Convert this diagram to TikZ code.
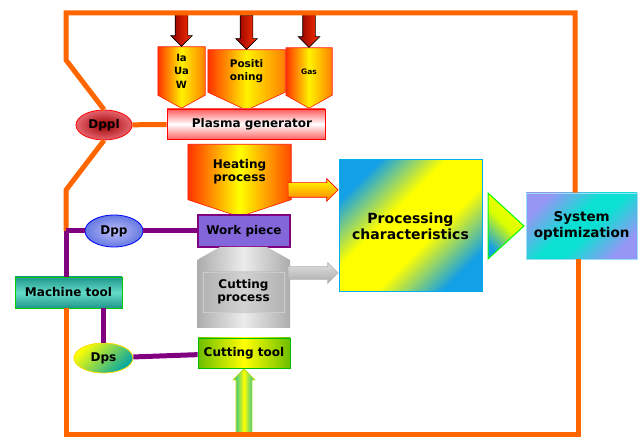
\documentclass[tikz,border=0pt]{standalone}
\usepackage{fontspec}
\setmainfont{DejaVu Sans}
\usetikzlibrary{positioning, backgrounds, shapes.geometric, shapes.arrows}

\definecolor{frameorange}{RGB}{255,102,0}
\definecolor{linepurple}{RGB}{128,0,128}
\definecolor{hotred}{RGB}{255,50,0}
\definecolor{procblue}{RGB}{20,160,230}
\definecolor{lavblue}{RGB}{150,150,245}
\definecolor{sysgreen}{RGB}{10,225,210}
\definecolor{wppurple}{RGB}{130,102,218}
\definecolor{toolgreen}{RGB}{110,190,0}
\definecolor{toolteal}{RGB}{30,150,140}
\definecolor{toolcyan}{RGB}{100,220,200}

\pgfdeclareverticalshading{procdiag}{100bp}{color(0bp)=(procblue); color(25bp)=(procblue);
	color(42bp)=(yellow); color(58bp)=(yellow); color(75bp)=(procblue); color(100bp)=(procblue)}
\pgfdeclareverticalshading{sysdiag}{100bp}{color(0bp)=(lavblue); color(25bp)=(lavblue);
	color(45bp)=(sysgreen); color(55bp)=(sysgreen); color(75bp)=(lavblue); color(100bp)=(lavblue)}

\tikzset{
	every node/.style={font=\bfseries\fontsize{12}{13}\selectfont, text=black, inner sep=1pt}, % bold sans labels
	frame/.style={draw=frameorange, line width=5pt}, % the orange control loop
	link/.style={draw=linepurple, line width=5pt}, % purple sensor links
	pentbody/.style={rectangle, align=center}, % text part of an input box
	pentfill/.style={draw=red!80!orange, line width=0.6pt,
		left color=hotred, right color=orange, middle color=yellow!90!orange}, % input box outline
	downarrow/.style={single arrow, shape border rotate=270, draw=black, line width=0.6pt,
		left color=red!55!black, right color=hotred, minimum height=34pt, minimum width=21pt,
		single arrow head extend=4.5pt, inner sep=6pt, anchor=tip}, % inputs from the loop
	oval/.style={ellipse, line width=0.8pt, minimum height=30pt}, % sensors
	box/.style={rectangle, line width=0.8pt}, % plain blocks
}

\begin{document}
\begin{tikzpicture}[x=1pt, y=-1pt]
	\useasboundingbox (0,0) rectangle (641,438);

	% inputs of the plasma generator
	\node[pentbody, minimum width=47pt, minimum height=48pt,
		font=\bfseries\fontsize{10}{13.5}\selectfont] (ia) at (181.5,71) {Ia\\Ua\\W};
	\node[pentbody, minimum width=77pt, minimum height=42pt,
		font=\bfseries\fontsize{10.5}{13}\selectfont] (pos) at (246.5,71) {Positi\\oning};
	\node[pentbody, minimum width=46pt, minimum height=47pt,
		font=\bfseries\fontsize{7.5}{8}\selectfont] (gas) at (309,71.5) {Gas};
	\node[downarrow] at (ia.north) {};
	\node[downarrow] at (pos.north) {};
	\node[downarrow] at (gas.north) {};

	\node[box, draw=red, top color=red!65, bottom color=red!60, middle color=white,
		minimum width=158pt, minimum height=30pt] (plasma) at (246,124) {\hspace{12pt}Plasma generator};
	\node[oval, draw=red, inner color=red!60!black, outer color={rgb,255:red,230;green,100;blue,110},
		minimum width=56pt] (dppl) at (104,125) {Dppl};

	% process chain
	\node[pentbody, minimum width=103pt, minimum height=55pt] (heat) at (239.5,172) {Heating\\process};
	\node[box, draw=linepurple, fill=wppurple, line width=1.2pt,
		minimum width=92pt, minimum height=32pt] (wp) at (244,231) {Work piece};
	\shade[left color=gray!65, right color=gray!65, middle color=gray!15]
		(197,260) -- (220,247) -- (267,247) -- (290,260) -- (290,328) -- (197,328) -- cycle;
	\node[box, draw=gray!40, left color=gray!60, right color=gray!60, middle color=gray!35,
		minimum width=81pt, minimum height=40pt, align=center] (cut) at (243.5,292) {Cutting\\process};
	\node[box, draw=green!75!black, left color=toolgreen, right color=toolgreen, middle color=yellow,
		minimum width=92pt, minimum height=30pt] (ctool) at (244,353) {Cutting tool};

	\node[box, draw=cyan, line width=1pt, shade, shading=procdiag, shading angle=45,
		minimum width=143pt, minimum height=132pt, align=center,
		font=\bfseries\fontsize{14}{16}\selectfont] (proc) at (410.5,226) {Processing\\characteristics};
	\node[isosceles triangle, isosceles triangle apex angle=85, draw=green, line width=1pt, inner sep=0pt,
		top color=yellow, bottom color=procblue, middle color=yellow!85!green, shading angle=-45,
		minimum height=36pt, minimum width=66pt] (tri) [right=5pt of proc] {};
	\node[box, draw=cyan!40, shade, shading=sysdiag, shading angle=45,
		minimum width=111pt, minimum height=66pt, align=center,
		font=\bfseries\fontsize{13.5}{15.5}\selectfont] (sysopt) [right=1pt of tri] {System\\optimization};

	% block arrows into the characteristics
	\node[single arrow, draw=red, top color=yellow, bottom color=orange, line width=0.6pt,
		minimum height=50pt, minimum width=22pt, single arrow head extend=4pt, inner sep=7pt, anchor=tip]
		at (proc.west |- 0,190) {};
	\node[single arrow, draw=gray!60, top color=gray!25, bottom color=gray!65, line width=0.6pt,
		minimum height=50pt, minimum width=20pt, single arrow head extend=4pt, inner sep=6pt, anchor=tip]
		at (proc.west |- 0,273) {};
	\node[single arrow, shape border rotate=90, draw=yellow!70!green, left color=teal!55!cyan,
		right color=teal!55!cyan, middle color=yellow, line width=0.8pt,
		minimum height=67pt, minimum width=21pt, single arrow head extend=3pt, inner sep=7.5pt, anchor=tip]
		at (ctool.south) {};

	% machine tool and sensors
	\node[box, draw=green!80!black, top color=toolteal, bottom color=toolteal, middle color=toolcyan,
		minimum width=107pt, minimum height=31pt] (mtool) at (68.5,292.5) {Machine tool};
	\node[oval, draw=blue, inner color=lavblue!60!white, outer color={rgb,255:red,100;green,120;blue,225},
		minimum width=58pt, minimum height=32pt] (dpp) at (114,231) {Dpp};
	\node[oval, draw=yellow!80!orange, top color=yellow, bottom color=teal!70!cyan, shading angle=45,
		minimum width=59pt] (dps) at (103.5,358) {Dps};

	% pointed outlines behind the input and heating texts
	\begin{scope}[on background layer]
		\shade[pentfill] (ia.north west) -- (ia.north east) -- (ia.south east) -- ([yshift=-13pt]ia.south) -- (ia.south west) -- cycle;
		\shade[pentfill] (pos.north west) -- (pos.north east) -- (pos.south east) -- ([yshift=-18pt]pos.south) -- (pos.south west) -- cycle;
		\shade[pentfill] (gas.north west) -- (gas.north east) -- (gas.south east) -- ([yshift=-13pt]gas.south) -- (gas.south west) -- cycle;
		\shade[pentfill, right color=hotred!70!orange, middle color=yellow]
			(heat.north west) -- (heat.north east) -- (heat.south east) -- ([yshift=-17pt]heat.south) -- (heat.south west) -- cycle;
	\end{scope}

	% the loop
	\coordinate (ftl) at (66,13);
	\coordinate (ftr) at (575,13);
	\coordinate (fbr) at (578,435);
	\coordinate (fbl) at (66,435);
	\coordinate (fk1) at (66,60);
	\coordinate (fk2) at (66,190);
	\coordinate (fj) at (66,231);
	\draw[frame] (dppl.north) -- (fk1) -- (ftl) -- (ftr) -- (ftr |- sysopt.north);
	\draw[frame] (fbr |- sysopt.south) -- (fbr) -- (fbl) -- (fbl |- mtool.south);
	\draw[frame] (dppl.south) -- (fk2) -- (fj);
	\draw[frame] (dppl) -- (plasma);
	\draw[link] (fj) -- (fj |- mtool.north);
	\draw[link] (fj) -- (dpp.west);
	\draw[link] (dpp) -- (wp);
	\draw[link] (dps.north |- mtool.south) -- (dps.north);
	\draw[link] (dps) -- (ctool);
\end{tikzpicture}
\end{document}
